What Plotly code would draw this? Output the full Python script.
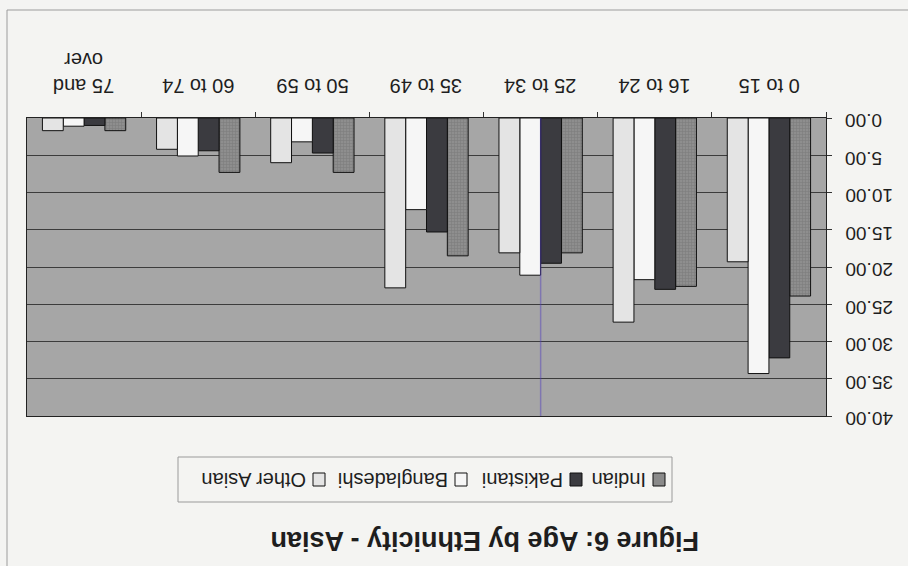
import plotly.graph_objects as go

# Age distribution (%) of the Asian population by ethnic group
age_groups = ["0 to 15", "16 to 24", "25 to 34", "35 to 49", "50 to 59", "60 to 74", "75 and over"]
age_labels = ["0 to 15", "16 to 24", "25 to 34", "35 to 49", "50 to 59", "60 to 74", "75 and<br>over"]
indian = [23.9, 22.6, 18.1, 18.5, 7.3, 7.3, 1.7]
pakistani = [32.2, 23.0, 19.5, 15.3, 4.7, 4.4, 1.0]
bangladeshi = [34.3, 21.7, 21.1, 12.3, 3.2, 5.1, 1.1]
other_asian = [19.3, 27.4, 18.1, 22.8, 6.0, 4.2, 1.7]

series_names = ["Indian", "Pakistani", "Bangladeshi", "Other Asian"]
series_values = [indian, pakistani, bangladeshi, other_asian]
series_colors = ["#8a8a8a", "#3b3b40", "#f6f6f6", "#e4e4e4"]

y_tick_values = [0, 5, 10, 15, 20, 25, 30, 35, 40]
y_tick_labels = ["0.00", "5.00", "10.00", "15.00", "20.00", "25.00", "30.00", "35.00", "40.00"]

title_text = "Figure 6: Age by Ethnicity - Asian"

W, H = 908, 566
# plot-area edges in pixels
L, R, T, B = 27, 826, 118, 416


def px(x):
    return (x - L) / (R - L)


def py(y):
    return (B - y) / (B - T)


FONT = "Liberation Sans"
INK = "#1e1e1e"

fig = go.Figure()
for name, vals, col in zip(series_names, series_values, series_colors):
    marker = dict(color=col, line=dict(color="#111111", width=1))
    if name == "Indian":
        marker["pattern"] = dict(shape="+", size=3, solidity=0.35,
                                 fgcolor="#6c6c6c", bgcolor="#8e8e8e")
    fig.add_trace(go.Bar(x=age_groups, y=vals, name=name, marker=marker,
                         showlegend=False))

shapes = []
annotations = []

# upside-down legend drawn from shapes and rotated text
shapes.append(dict(type="rect", xref="paper", yref="paper",
                   x0=px(178), x1=px(672), y0=py(502), y1=py(457),
                   line=dict(color="#9a9a9a", width=1), fillcolor="rgba(0,0,0,0)"))
swatch_left = [653, 570, 455, 313]
text_right = [648, 565, 450, 308]
for name, col, sx, tx in zip(series_names, series_colors, swatch_left, text_right):
    shapes.append(dict(type="rect", xref="paper", yref="paper",
                       x0=px(sx), x1=px(sx + 12), y0=py(486), y1=py(473),
                       line=dict(color="#111111", width=1), fillcolor=col))
    annotations.append(dict(text=name, xref="paper", yref="paper",
                            x=px(tx), y=py(480), xanchor="right", yanchor="middle",
                            textangle=180, showarrow=False,
                            font=dict(family=FONT, size=20, color=INK)))

# value-axis labels, turned upside down, placed on the y scale
for v, lab in zip(y_tick_values, y_tick_labels):
    annotations.append(dict(text=lab, xref="paper", yref="y", x=px(843), y=v,
                            xanchor="left", yanchor="middle", yshift=-3,
                            textangle=180, showarrow=False,
                            font=dict(family=FONT, size=19, color=INK)))

# category labels, turned upside down, centred on each group
for cat, lab in zip(age_groups, age_labels):
    annotations.append(dict(text=lab, xref="x", yref="paper", x=cat, y=py(99),
                            xanchor="center", yanchor="bottom",
                            textangle=180, showarrow=False,
                            font=dict(family=FONT, size=20, color=INK)))

# chart border
shapes.append(dict(type="line", xref="paper", yref="paper",
                   x0=px(7), x1=px(W + 5), y0=py(10), y1=py(10),
                   line=dict(color="#9c9c9c", width=1)))
shapes.append(dict(type="line", xref="paper", yref="paper",
                   x0=px(7), x1=px(7), y0=py(10), y1=py(H + 5),
                   line=dict(color="#9c9c9c", width=1)))
# faint bluish vertical streak through the middle of the third group
shapes.append(dict(type="line", xref="x", yref="paper", x0=2, x1=2, y0=0, y1=1,
                   line=dict(color="rgba(80,60,190,0.45)", width=1.5)))

annotations.append(dict(text="<b>" + title_text + "</b>", xref="paper", yref="paper",
                        x=px(484), y=py(541), xanchor="center", yanchor="middle",
                        textangle=180, showarrow=False,
                        font=dict(family=FONT, size=27, color=INK)))

fig.update_layout(
    width=W, height=H,
    margin=dict(l=L, r=W - R, t=T, b=H - B, pad=0),
    barmode="group", bargap=0.27, bargroupgap=0,
    paper_bgcolor="#f4f4f2", plot_bgcolor="#a6a6a6",
    font=dict(family=FONT, color=INK),
    shapes=shapes, annotations=annotations,
    showlegend=False,
)
fig.update_xaxes(
    type="category", autorange="reversed", side="top", automargin=False,
    showticklabels=False, tickson="boundaries", ticks="outside", ticklen=5,
    tickcolor="#333333", showline=True, mirror=True, linecolor="#222222",
    showgrid=False,
)
fig.update_yaxes(
    range=[40, 0], side="right", automargin=False, tickvals=y_tick_values,
    showticklabels=False, ticks="outside", ticklen=5, tickcolor="#333333",
    showline=True, mirror=True, linecolor="#222222",
    showgrid=True, gridcolor="#3c3c3c", gridwidth=1, zeroline=False,
)

fig.write_html("out.html")
